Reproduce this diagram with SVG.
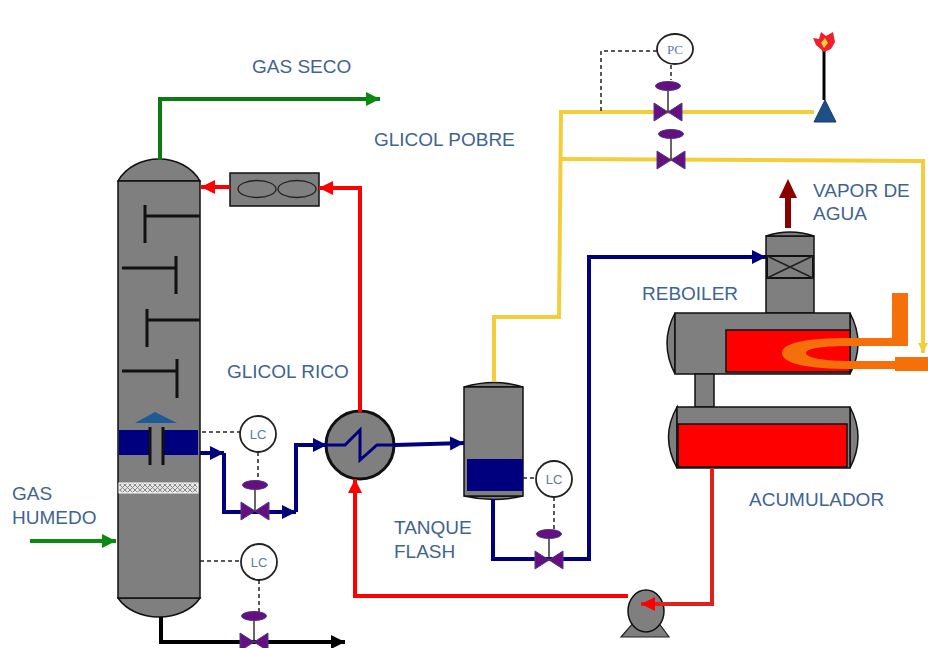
<svg xmlns="http://www.w3.org/2000/svg" width="928" height="648" viewBox="0 0 928 648">
<style>
text{font-family:"Liberation Sans",Arial,sans-serif;font-size:19px;fill:#3f6490}
.v{fill:#808080;stroke:#111;stroke-width:2}
.vt{fill:#7f7f7f;stroke:#111;stroke-width:1.5}
.ln{fill:none;stroke-width:4;stroke-linejoin:miter}
.d{fill:none;stroke:#222;stroke-width:1.5;stroke-dasharray:4 3}
.ctl{fill:#fff;stroke:#222;stroke-width:1.8}
.lc{font-size:13px;text-anchor:middle;fill:#5f7a9a}
.tr{fill:none;stroke:#111;stroke-width:3}
.vb{fill:#660f80;stroke:#4a3a8a;stroke-width:1}
.st{stroke:#333;stroke-width:1.5;fill:none}
.red{fill:#f00;stroke:#111;stroke-width:1.5}
.navy{fill:#00007f}
</style>
<defs>
<g id="valve"><path class="st" d="M0-26V0"/><ellipse class="vb" cx="0" cy="-26" rx="12.5" ry="4.5"/><path class="vb" d="M-14-9L14 9V-9L-14 9Z"/></g>
<marker id="r" markerUnits="userSpaceOnUse" markerWidth="16" markerHeight="16" refX="14" refY="8" orient="auto"><path d="M0 1L14 8L0 15Z" fill="#f00"/></marker>
<marker id="n" markerUnits="userSpaceOnUse" markerWidth="16" markerHeight="16" refX="14" refY="8" orient="auto"><path d="M0 1L14 8L0 15Z" fill="#00007f"/></marker>
<marker id="g" markerUnits="userSpaceOnUse" markerWidth="16" markerHeight="16" refX="14" refY="8" orient="auto"><path d="M0 1L14 8L0 15Z" fill="#0b8a12"/></marker>
<marker id="k" markerUnits="userSpaceOnUse" markerWidth="16" markerHeight="16" refX="14" refY="8" orient="auto"><path d="M0 1L14 8L0 15Z" fill="#000"/></marker>
<marker id="y" markerUnits="userSpaceOnUse" markerWidth="12" markerHeight="12" refX="10" refY="6" orient="auto"><path d="M0 1L10 6L0 11Z" fill="#f2cf3a"/></marker>
<pattern id="mesh" patternUnits="userSpaceOnUse" width="5" height="5"><rect width="5" height="5" fill="#e4e4e4"/><path d="M0 5L5 0M0 0L5 5" stroke="#8a8a8a" stroke-width="1"/></pattern>
</defs>
<rect width="928" height="648" fill="#fff"/>

<g id="absorbedor">
<path class="vt" d="M118 181C126 167 142 159 159 159C176 159 192 167 200 181Z"/>
<path class="vt" d="M118 598C126 610 142 617 159 617C176 617 192 610 200 598Z"/>
<rect class="vt" x="118" y="181" width="82" height="417"/>
<path class="tr" d="M145 205V243M145 216H200M176 256V294M122 268H176M147 309V347M147 320H200M177 359V398M122 371H177"/>
<rect x="119" y="430" width="31" height="25" class="navy"/>
<rect x="164" y="430" width="34" height="25" class="navy"/>
<path class="tr" d="M150 427V465M163 427V465"/>
<path d="M135 423L155 412L177 423Z" fill="#1f5a96"/>
<rect x="119" y="483" width="79" height="10" fill="url(#mesh)" stroke="#fff"/>
</g>

<g id="enfriador">
<rect class="vt" x="230" y="173" width="89" height="33"/>
<ellipse cx="257" cy="189" rx="19" ry="8.5" fill="none" stroke="#222" stroke-width="1.3"/>
<ellipse cx="297" cy="189" rx="19" ry="8.5" fill="none" stroke="#222" stroke-width="1.3"/>
</g>

<g id="intercambiador">
<circle cx="360" cy="445" r="34" fill="#7f7f7f" stroke="#111" stroke-width="3"/>
<path d="M327 445H345L360 430V460L377 445H395" fill="none" stroke="#00007f" stroke-width="3"/>
</g>

<g id="tanque-flash">
<path class="vt" d="M464 387Q494 378 523 387ZM464 496Q494 503 523 496Z"/>
<rect class="vt" x="464" y="387" width="59" height="109"/>
<rect x="467" y="459" width="56" height="32" class="navy"/>
</g>

<g id="rehervidor">
<rect class="vt" x="766" y="236" width="48" height="77"/>
<path class="vt" d="M766 236Q790 228 814 236Z"/>
<rect x="767" y="256" width="46" height="22" fill="none" stroke="#111" stroke-width="2"/>
<path d="M767 256L813 278M813 256L767 278" stroke="#222" stroke-width="1.5"/>
<path class="vt" d="M675 313Q659 343 675 374ZM850 313Q866 343 850 374Z"/>
<rect class="vt" x="675" y="313" width="175" height="61"/>
<rect class="red" x="726" y="330" width="124" height="42"/>
<rect class="vt" x="695" y="374" width="19" height="33"/>
<path fill="#f56f0a" d="M908 293H892V338H850C810 338 782 342 782 353C782 364 810 369 850 369H895V371H928V357H895V361H850C825 361 806 358 806 353C806 348 825 346 850 346H908Z"/>
</g>

<g id="acumulador">
<path class="vt" d="M677 407Q660 437 677 468ZM850 407Q866 437 850 468Z"/>
<rect class="vt" x="677" y="407" width="173" height="61"/>
<rect class="red" x="678" y="424" width="169" height="43"/>
</g>

<g id="bomba">
<path d="M621 637L634 622H658L669 637Z" fill="#7f7f7f" stroke="#222" stroke-width="1.2"/>
<ellipse cx="646" cy="611" rx="18" ry="21" class="vt"/>
</g>

<g id="antorcha">
<path d="M824 50V100" stroke="#000" stroke-width="3"/>
<path d="M814 122L825 100L836 122Z" fill="#1f4f86" stroke="#163a66"/>
<path d="M824 52L816 45L813 38L819 39L821 32L826 36L833 32L835 42L831 49Z" fill="#f0202a"/>
<path d="M824 48L821 43L825 38L828 43Z" fill="#f6d23c"/>
</g>

<g id="connectors">
<path class="ln" stroke="#0b7a12" d="M160 160V99H380" marker-end="url(#g)"/>
<path class="ln" stroke="#0b8a12" stroke-width="3" d="M30 541H116" marker-end="url(#g)"/>
<path class="ln" stroke="#f00" d="M230 187H201" marker-end="url(#r)"/>
<path class="ln" stroke="#f00" d="M360 412V188H319" marker-end="url(#r)"/>
<path class="ln" stroke="#f00" d="M628 596H355V479" marker-end="url(#r)"/>
<path class="ln" stroke="#e0201c" d="M712 468V604H641" marker-end="url(#r)"/>
<path class="ln" stroke="#00007f" d="M200 453H224" marker-end="url(#n)"/>
<path class="ln" stroke="#00007f" d="M224 453V512H296" marker-end="url(#n)"/>
<path class="ln" stroke="#00007f" d="M296 512V445H327" marker-end="url(#n)"/>
<path class="ln" stroke="#00007f" d="M395 445L464 443" marker-end="url(#n)"/>
<path class="ln" stroke="#00007f" d="M493 499V559H589V257H766" marker-end="url(#n)"/>
<path class="ln" stroke="#000" d="M161 617V642H345" marker-end="url(#k)"/>
<path class="ln" stroke="#f2cf3a" stroke-width="3" d="M494 382V317H559L561 112H814"/>
<path class="ln" stroke="#f2cf3a" stroke-width="3" d="M561 159L923 161V353" marker-end="url(#y)"/>
<path class="d" d="M202 432H240"/>
<path class="d" d="M258 452V481"/>
<path class="d" d="M200 561H240"/>
<path class="d" d="M259 580V612"/>
<path class="d" d="M523 478H536"/>
<path class="d" d="M554 497V530"/>
<path class="d" d="M657 51H601V114"/>
<path class="d" d="M671 65V80"/>
</g>

<g id="lc-1"><circle class="ctl" cx="258" cy="434" r="18"/><text class="lc" x="258" y="439">LC</text></g>
<g id="lc-2"><circle class="ctl" cx="259" cy="562" r="18"/><text class="lc" x="259" y="567">LC</text></g>
<g id="lc-3"><circle class="ctl" cx="554" cy="479" r="18"/><text class="lc" x="554" y="484">LC</text></g>
<g id="pc"><ellipse class="ctl" cx="675" cy="49" rx="18" ry="15"/><text class="lc" x="675" y="54" style="font-family:'Liberation Serif',serif">PC</text></g>

<g id="valvula-1"><use href="#valve" x="255" y="511"/></g>
<g id="valvula-2"><use href="#valve" x="254" y="642"/></g>
<g id="valvula-3"><use href="#valve" x="549" y="560"/></g>
<g id="valvula-4"><use href="#valve" x="668" y="112"/></g>
<g id="valvula-5"><use href="#valve" x="671" y="160"/></g>

<g id="vapor">
<path d="M788 228V195" stroke="#8b0000" stroke-width="6"/>
<path d="M779 198L788 179L797 198Z" fill="#8b0000"/>
</g>

<g id="labels">
<text x="252" y="73">GAS SECO</text>
<text x="374" y="146">GLICOL POBRE</text>
<text x="813" y="197">VAPOR DE</text>
<text x="813" y="220">AGUA</text>
<text x="642" y="300">REBOILER</text>
<text x="227" y="378">GLICOL RICO</text>
<text x="12" y="500">GAS</text>
<text x="12" y="524">HUMEDO</text>
<text x="394" y="534">TANQUE</text>
<text x="394" y="558">FLASH</text>
<text x="749" y="506">ACUMULADOR</text>
</g>
</svg>
